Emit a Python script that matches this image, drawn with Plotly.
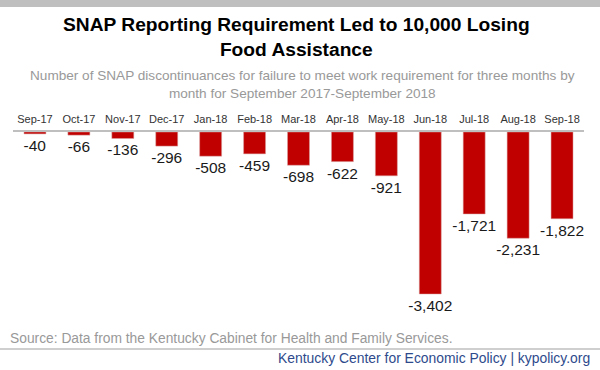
import plotly.graph_objects as go

months = ["Sep-17", "Oct-17", "Nov-17", "Dec-17", "Jan-18", "Feb-18", "Mar-18",
          "Apr-18", "May-18", "Jun-18", "Jul-18", "Aug-18", "Sep-18"]
values = [-40, -66, -136, -296, -508, -459, -698, -622, -921, -3402, -1721, -2231, -1822]
labels = [f"{v:,}" for v in values]

FONT = "Liberation Sans, Arial, sans-serif"

H, W = 370, 600
t, b, l, r = 132, 60, 13, 16
ph, pw = H - t - b, W - l - r
def fy(py):  # pixel y from top -> paper y
    return (H - b - py) / ph
def fx(px):
    return (px - l) / pw

fig = go.Figure()
fig.add_trace(go.Bar(
    x=months, y=values, text=labels, textposition="outside",
    constraintext="none",
    textfont=dict(family=FONT, size=15.5, color="#1a1a1a"),
    marker=dict(color="#c00000", line=dict(color="#d9a0a0", width=0.5)),
    width=0.5, cliponaxis=False,
))

fig.update_layout(
    width=W, height=H,
    margin=dict(l=l, r=r, t=t, b=b),
    paper_bgcolor="white", plot_bgcolor="white",
    showlegend=False,
    xaxis=dict(side="top", showline=True, linecolor="#bfbfbf", linewidth=2,
               ticks="", tickfont=dict(family=FONT, size=11, color="#333333"),
               ticklabelstandoff=3,
               range=[-0.5, 12.5], fixedrange=True, automargin=False),
    yaxis=dict(range=[-3738, 0], visible=False, showgrid=False, zeroline=False,
               fixedrange=True),
    annotations=[
        dict(text="<b>SNAP Reporting Requirement Led to 10,000 Losing<br>Food Assistance</b>",
             x=fx(296), y=fy(37), xref="paper", yref="paper", yanchor="middle",
             xanchor="center", showarrow=False,
             font=dict(family=FONT, size=19.2, color="#000000")),
        dict(text="Number of SNAP discontinuances for failure to meet work requirement for three months by<br>month for September 2017-September 2018",
             x=fx(302), y=fy(85), xref="paper", yref="paper", yanchor="middle",
             xanchor="center", showarrow=False,
             font=dict(family=FONT, size=13.6, color="#999999")),
        dict(text="Source: Data from the Kentucky Cabinet for Health and Family Services.",
             x=fx(8), y=fy(338), xref="paper", yref="paper", yanchor="middle",
             xanchor="left", showarrow=False,
             font=dict(family=FONT, size=13.8, color="#999999")),
        dict(text="Kentucky Center for Economic Policy | kypolicy.org",
             x=fx(592), y=fy(358), xref="paper", yref="paper", yanchor="middle",
             xanchor="right", showarrow=False,
             font=dict(family=FONT, size=13.9, color="#2e4a8c")),
    ],
    shapes=[
        dict(type="rect", xref="paper", yref="paper", x0=fx(-5), x1=fx(605),
             y0=fy(7), y1=fy(-5), fillcolor="#bfbfbf", line=dict(width=0), layer="above"),
        dict(type="line", xref="paper", yref="paper", x0=fx(-5), x1=fx(605),
             y0=fy(349), y1=fy(349), line=dict(color="#bfbfbf", width=1.5)),
    ],
)

fig.write_html("out.html", config={"displayModeBar": False},
               post_script="document.body.style.margin='0px';")
